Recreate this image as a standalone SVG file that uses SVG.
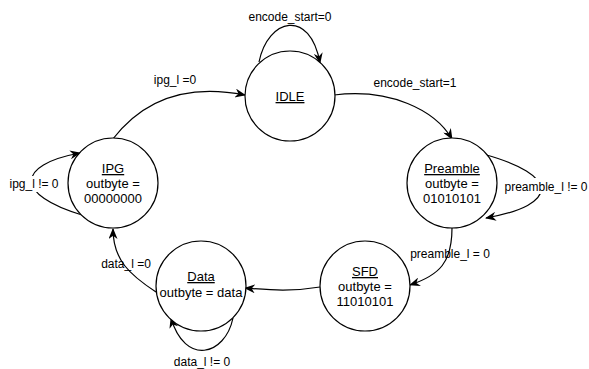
<svg xmlns="http://www.w3.org/2000/svg" width="589" height="369" viewBox="0 0 589 369">
  <style>
    .state circle { fill: #ffffff; stroke: #000000; stroke-width: 1.2; }
    .state text { font-family: "Liberation Sans", Arial, sans-serif; font-size: 13px; fill: #000000; text-anchor: middle; }
    .state .name { text-decoration: underline; }
    .edge { fill: none; stroke: #000000; stroke-width: 1.2; marker-end: url(#arrow); }
    .label { font-family: "Liberation Sans", Arial, sans-serif; font-size: 12px; fill: #000000; text-anchor: middle; }
    .label-bg { fill: #ffffff; }
  </style>
  <defs>
    <marker id="arrow" viewBox="0 0 11 9" refX="10" refY="4.5" markerWidth="11" markerHeight="9" markerUnits="userSpaceOnUse" orient="auto">
      <path d="M0,0 L11,4.5 L0,9 L3.3,4.5 Z" fill="#000000"/>
    </marker>
  </defs>

  <rect width="589" height="369" fill="#ffffff"/>

  <!-- transitions -->
  <g id="connectors">
    <path class="edge" d="M259 62 C268 18 310 8 320 63"/>
    <path class="edge" d="M112 140 C150 90 200 86 245 95"/>
    <path class="edge" d="M334 95 C390 88 435 110 452 139"/>
    <path class="edge" d="M483 154 C560 175 560 205 486 218"/>
    <path class="edge" d="M452 228 C452 262 440 275 410 285"/>
    <path class="edge" d="M320 287 C290 292 270 290 245 288"/>
    <path class="edge" d="M233 318 C225 356 185 366 171 318"/>
    <path class="edge" d="M156 292 C130 275 113 260 113 229"/>
    <path class="edge" d="M82 215 C15 195 15 165 80 153"/>
  </g>

  <!-- transition labels -->
  <g id="labels">
    <text class="label" x="290" y="21">encode_start=0</text>
    <text class="label" x="175" y="84">ipg_l =0</text>
    <text class="label" x="415" y="87">encode_start=1</text>
    <rect class="label-bg" x="505" y="178" width="82" height="16"/>
    <text class="label" x="546" y="191">preamble_l != 0</text>
    <rect class="label-bg" x="8" y="176" width="53" height="16"/>
    <text class="label" x="34" y="188">ipg_l != 0</text>
    <text class="label" x="450" y="258">preamble_l = 0</text>
    <text class="label" x="126" y="268">data_l =0</text>
    <text class="label" x="202" y="366">data_l != 0</text>
  </g>

  <!-- states -->
  <g id="idle" class="state">
    <circle cx="290" cy="96" r="45"/>
    <text class="name" x="290" y="101">IDLE</text>
  </g>
  <g id="preamble" class="state">
    <circle cx="452" cy="183" r="45"/>
    <text class="name" x="452" y="173">Preamble</text>
    <text x="452" y="188">outbyte =</text>
    <text x="452" y="203">01010101</text>
  </g>
  <g id="sfd" class="state">
    <circle cx="365" cy="286" r="45"/>
    <text class="name" x="365" y="276">SFD</text>
    <text x="365" y="291">outbyte =</text>
    <text x="365" y="306">11010101</text>
  </g>
  <g id="data" class="state">
    <circle cx="201" cy="286" r="45"/>
    <text class="name" x="201" y="281">Data</text>
    <text x="201" y="297">outbyte = data</text>
  </g>
  <g id="ipg" class="state">
    <circle cx="113" cy="183" r="45"/>
    <text class="name" x="113" y="173">IPG</text>
    <text x="113" y="188">outbyte =</text>
    <text x="113" y="203">00000000</text>
  </g>
</svg>
